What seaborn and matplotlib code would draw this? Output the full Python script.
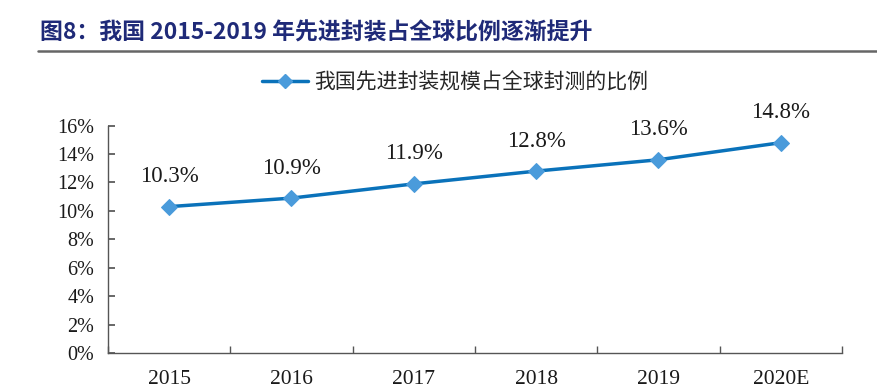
import pandas as pd
import matplotlib
matplotlib.use("Agg")
import matplotlib.pyplot as plt
import seaborn as sns
from matplotlib.ticker import PercentFormatter, FixedLocator
from matplotlib.lines import Line2D

# data
years = ["2015", "2016", "2017", "2018", "2019", "2020E"]
share = [10.3, 10.9, 11.9, 12.8, 13.6, 14.8]
series_name = "我国先进封装规模占全球封测的比例"
title_text = "图8：我国 2015-2019 年先进封装占全球比例逐渐提升"

LINE_COLOR = "#0A72BA"
MARKER_COLOR = "#4A9BDB"
SERIF = ["Liberation Serif", "DejaVu Serif"]
CJK = ["Noto Sans CJK SC", "DejaVu Sans"]

sns.set_theme(style="ticks")
plt.rcParams["font.family"] = SERIF

df = pd.DataFrame({"year": years, "share": share})

fig = plt.figure(figsize=(8.78, 3.92), dpi=100)
ax = fig.add_axes([0.123, 0.0995, 0.836, 0.58])

sns.lineplot(data=df, x="year", y="share", ax=ax, color=LINE_COLOR, linewidth=2.5,
             marker="D", markersize=8, markerfacecolor=MARKER_COLOR,
             markeredgecolor=MARKER_COLOR, sort=False)

for i, v in enumerate(share):
    ax.annotate(f"{v:.1f}%", (i, v), xytext=(0, 14), textcoords="offset points",
                ha="center", va="bottom", fontsize=16.5, color="#1a1a1a", family=SERIF)

ax.set_ylim(0, 16)
ax.set_yticks(range(0, 17, 2))
ax.yaxis.set_major_formatter(PercentFormatter(decimals=0))
ax.set_xlim(-0.5, len(years) - 0.5)
ax.set_xticks(range(len(years)))
ax.set_xticklabels(years)
ax.xaxis.set_minor_locator(FixedLocator([i - 0.5 for i in range(len(years) + 1)]))
ax.tick_params(axis="x", which="major", length=0, labelsize=15.5, pad=12, labelcolor="#1a1a1a")
ax.tick_params(axis="x", which="minor", length=5, direction="in", color="#555555", width=1)
ax.tick_params(axis="y", length=5, direction="in", labelsize=14.5, color="#555555",
               labelcolor="#1a1a1a", pad=10)
ax.set_xlabel("")
ax.set_ylabel("")
for side in ["top", "right"]:
    ax.spines[side].set_visible(False)
for side in ["left", "bottom"]:
    ax.spines[side].set_color("#555555")
    ax.spines[side].set_linewidth(1)

handle = Line2D([], [], color=LINE_COLOR, linewidth=2.5, marker="D", markersize=7,
                markerfacecolor=MARKER_COLOR, markeredgecolor=MARKER_COLOR)
fig.legend([handle], [series_name], loc="center", bbox_to_anchor=(0.518, 0.79),
           frameon=False, prop={"family": CJK, "size": 15}, handlelength=2.2,
           handletextpad=0.3)

fig.text(0.045, 0.915, title_text, fontsize=16.5, fontweight="bold", color="#1F2A78",
         family=CJK, ha="left", va="center")
fig.add_artist(Line2D([0.043, 1.0], [0.87, 0.87], color="#666666", linewidth=1.8,
                      transform=fig.transFigure))

fig.savefig("out.png", dpi=100)
